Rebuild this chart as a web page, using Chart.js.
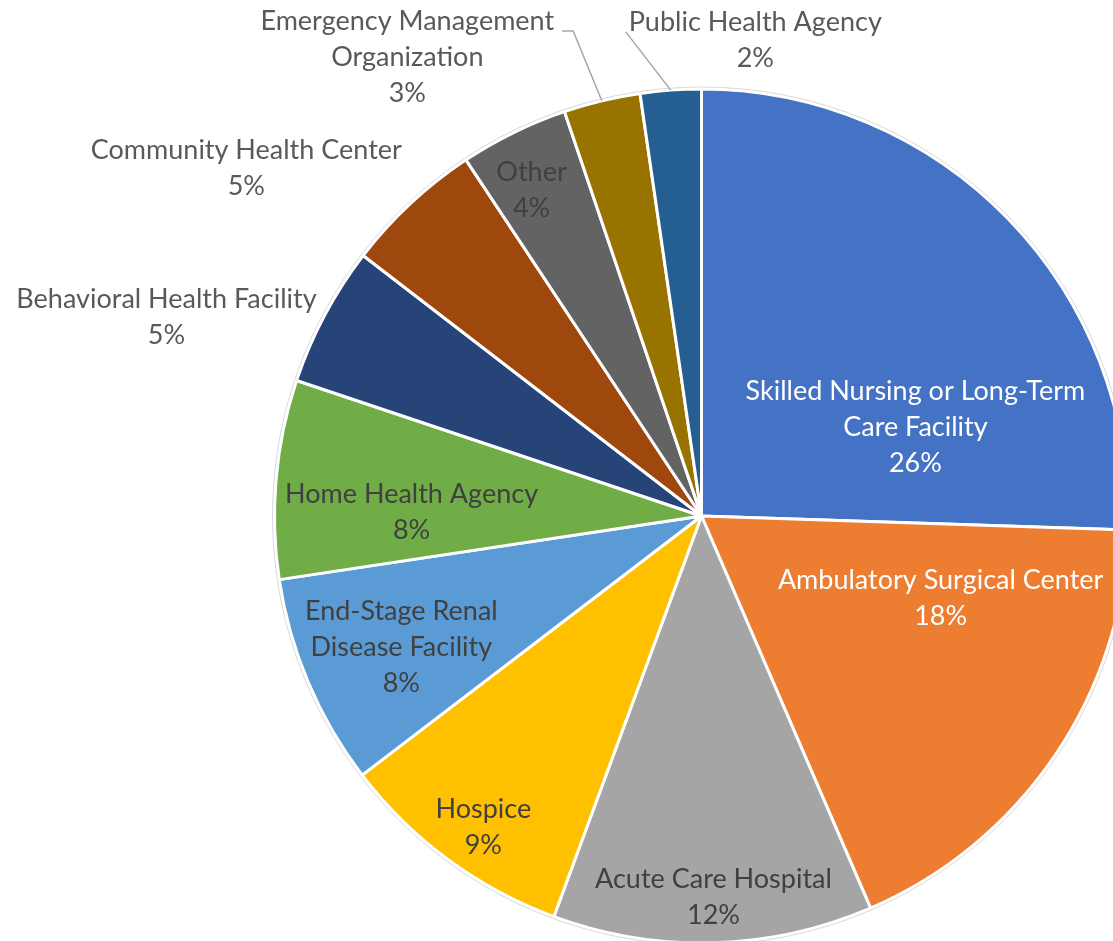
<!DOCTYPE html>
<html>
<head>
<meta charset="utf-8">
<script src="https://cdn.jsdelivr.net/npm/chart.js@4/dist/chart.umd.min.js"></script>
<style>
html,body{margin:0;padding:0;background:#fff;overflow:hidden;width:1113px;height:941px;}
#wrap{position:absolute;left:0;top:0;width:1300px;height:1100px;}
</style>
</head>
<body>
<div id="wrap"><canvas id="c" width="1300" height="1100"></canvas></div>
<script>
// ---- data ----
const categories = [
  "Skilled Nursing or Long-Term\nCare Facility",
  "Ambulatory Surgical Center",
  "Acute Care Hospital",
  "Hospice",
  "End-Stage Renal\nDisease Facility",
  "Home Health Agency",
  "Behavioral Health Facility",
  "Community Health Center",
  "Other",
  "Emergency Management\nOrganization",
  "Public Health Agency"
];
const shares = [25.52, 18.0, 12.1, 9.0, 8.0, 7.52, 5.3, 5.26, 4.1, 2.9, 2.3];
const colors = ["#4472C4","#ED7D31","#A5A5A5","#FFC000","#5B9BD5","#70AD47","#264478","#9E480E","#636363","#997300","#255E91"];
const textColors = ["#FFFFFF","#FFFFFF","#404040","#404040","#404040","#404040","#595959","#595959","#404040","#595959","#595959"];

// label placement relative to pie centre, in units of the pie radius
const labelLayout = [
  {dx: 0.501, dy: -0.208},
  {dx: 0.560, dy: 0.192},
  {dx: 0.028, dy: 0.892},
  {dx: -0.511, dy: 0.728},
  {dx: -0.703, dy: 0.307},
  {dx: -0.679, dy: -0.009},
  {dx: -1.253, dy: -0.466},
  {dx: -1.066, dy: -0.815},
  {dx: -0.398, dy: -0.763},
  {dx: -0.689, dy: -1.075, leader: "right"},
  {dx: 0.126, dy: -1.115, leader: "left"}
];

const FONT_SIZE = 27;
const FONT = FONT_SIZE + 'px Lato, "Open Sans", sans-serif';

const labelPlugin = {
  id: 'pieLabels',
  afterDatasetsDraw(chart) {
    const ctx = chart.ctx;
    const meta = chart.getDatasetMeta(0);
    const total = shares.reduce((a, b) => a + b, 0);
    ctx.save();
    // faint outer outline
    const a0 = meta.data[0];
    ctx.beginPath();
    ctx.arc(a0.x, a0.y, a0.outerRadius + 2, 0, Math.PI * 2);
    ctx.strokeStyle = '#d9d9d9';
    ctx.lineWidth = 1;
    ctx.stroke();

    ctx.font = FONT;
    ctx.textAlign = 'center';
    ctx.textBaseline = 'middle';
    meta.data.forEach((arc, i) => {
      const p = arc.getProps(['x', 'y', 'outerRadius', 'startAngle', 'endAngle'], true);
      const R = p.outerRadius;
      const lay = labelLayout[i];
      const cx = p.x + lay.dx * R;
      const cy = p.y + lay.dy * R;
      const lines = categories[i].split('\n');
      lines.push(Math.round(shares[i] / total * 100) + '%');
      const lh = 0.0843 * R;
      const y0 = cy - (lines.length - 1) * lh / 2;
      ctx.fillStyle = textColors[i];
      lines.forEach((t, k) => ctx.fillText(t, cx, y0 + k * lh));
      if (lay.leader) {
        const mid = (p.startAngle + p.endAngle) / 2;
        const ex = p.x + Math.cos(mid) * R;
        const ey = p.y + Math.sin(mid) * R;
        const w = ctx.measureText(lines[0]).width;
        const ly = y0 + 10;
        ctx.beginPath();
        ctx.strokeStyle = '#A6A6A6';
        ctx.lineWidth = 1.5;
        if (lay.leader === 'right') {
          const sx = cx + w / 2 + 8;
          ctx.moveTo(sx, ly);
          ctx.lineTo(sx + 11, ly);
          ctx.lineTo(ex, ey);
        } else {
          const sx = cx - w / 2 - 3;
          ctx.moveTo(sx, ly);
          ctx.lineTo(ex, ey);
        }
        ctx.stroke();
      }
    });
    ctx.restore();
  }
};

new Chart(document.getElementById('c'), {
  type: 'pie',
  data: {
    labels: categories,
    datasets: [{
      data: shares,
      backgroundColor: colors,
      borderColor: '#FFFFFF',
      borderWidth: 3
    }]
  },
  options: {
    responsive: false,
    animation: false,
    devicePixelRatio: 1,
    layout: { padding: { left: 273, right: 170, top: 87, bottom: 155 } },
    plugins: { legend: { display: false }, tooltip: { enabled: false } }
  },
  plugins: [labelPlugin]
});
</script>
</body>
</html>
